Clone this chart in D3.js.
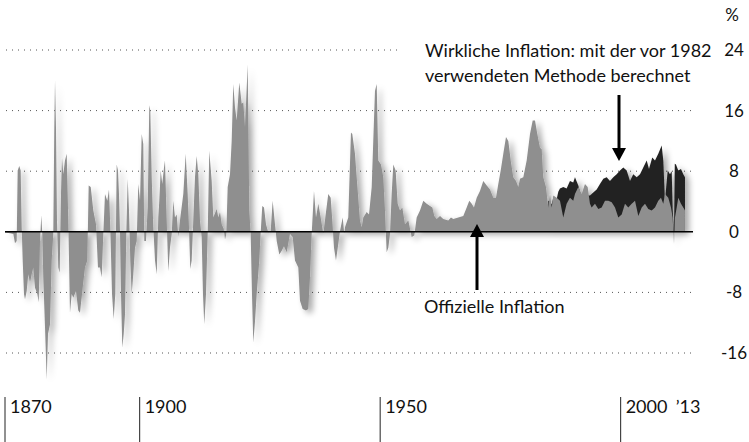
<!DOCTYPE html>
<html>
<head>
<meta charset="utf-8">
<script src="https://cdn.jsdelivr.net/npm/d3@7"></script>
<style>
  body { margin: 0; background: #fff; }
  svg { display: block; }
  text { font-family: Lato, "Open Sans", sans-serif; fill: #111; }
</style>
</head>
<body>
<div id="chart"></div>
<script>
var w = 749,
  h = 442;

// official inflation rate (% yoy), [year, value]
var official = [
  [1872.00,-0.1],[1873.04,-0.2],[1873.73,-0.3],[1874.08,-1.5],[1874.43,-1.2],[1874.64,8.1],[1874.97,8.7],[1875.26,8.1],
  [1875.47,0.6],[1875.68,-3.8],[1875.95,-8.2],[1876.16,-8.9],[1876.51,-7.8],[1876.84,-5.6],[1877.20,-6.7],[1877.55,-5.6],
  [1877.88,-4.7],[1878.24,-7.4],[1878.72,-8.2],[1879.01,-9.3],[1879.28,-1.2],[1879.55,2.2],[1879.75,-0.3],[1879.96,-6.0],
  [1880.32,-12.6],[1880.67,-19.5],[1880.94,-13.5],[1881.36,-12.2],[1881.71,-3.8],[1882.04,-0.3],[1882.25,13.8],[1882.40,20.0],
  [1882.60,13.8],[1882.81,1.5],[1883.08,-4.7],[1883.37,-5.4],[1883.64,5.0],[1883.85,9.8],[1884.12,7.6],[1884.47,9.4],
  [1884.83,10.3],[1885.16,1.5],[1885.51,-10.7],[1885.87,-8.2],[1886.20,-8.7],[1886.76,-7.8],[1887.24,-10.4],[1887.59,-10.7],
  [1888.15,-7.4],[1888.63,-4.7],[1889.11,-3.8],[1889.40,6.1],[1889.82,5.9],[1890.36,2.8],[1890.92,1.0],[1891.33,-4.7],
  [1891.75,-4.7],[1892.10,-6.0],[1892.44,-0.3],[1892.79,5.0],[1893.27,4.1],[1893.62,5.6],[1893.89,0.6],[1894.25,-8.2],
  [1894.60,-11.5],[1894.93,-8.2],[1895.22,8.9],[1895.49,8.1],[1895.70,5.0],[1895.91,0],[1896.12,-8.2],[1896.39,-15.3],
  [1896.68,-13.5],[1896.95,-10.9],[1897.22,-0.3],[1897.51,7.0],[1897.78,2.8],[1898.05,-3.8],[1898.34,-8.2],[1898.67,-5.6],
  [1899.03,-2.1],[1899.38,-1.2],[1899.71,6.3],[1900.07,4.1],[1900.42,12.9],[1900.75,11.6],[1900.96,-1.2],[1901.31,-1.2],
  [1901.67,3.2],[1902.00,16.7],[1902.21,16.0],[1902.50,7.2],[1902.83,0.6],[1903.19,-3.8],[1903.54,-5.6],[1903.87,1.9],
  [1904.08,4.1],[1904.37,8.1],[1904.70,6.3],[1905.06,8.5],[1905.26,9.4],[1905.62,1.5],[1905.95,-5.2],[1906.30,-2.1],
  [1906.66,-0.3],[1906.99,4.1],[1907.34,1.9],[1907.70,2.3],[1908.03,-0.7],[1908.38,1.5],[1909.07,5.0],[1909.57,10.3],
  [1909.98,5.0],[1910.25,0.6],[1910.52,-4.9],[1910.81,-3.8],[1911.09,0.6],[1911.50,7.2],[1911.85,10.0],[1912.19,7.6],
  [1912.54,1.5],[1912.89,-0.7],[1913.16,-8.2],[1913.43,-12.2],[1913.79,-8.2],[1914.14,-0.3],[1914.47,10.7],[1914.97,6.7],
  [1915.31,1.9],[1916.01,3.0],[1916.35,1.9],[1916.70,2.6],[1917.05,1.0],[1917.47,0.4],[1917.74,-1.0],[1918.01,-0.3],
  [1918.30,5.9],[1918.78,7.6],[1919.13,12.0],[1919.46,19.5],[1919.82,16.4],[1920.17,14.7],[1920.71,19.7],[1921.21,16.9],
  [1921.54,17.1],[1921.90,13.8],[1922.46,22.1],[1922.79,2.8],[1923.08,-0.3],[1923.35,-8.2],[1923.62,-14.6],[1923.98,-11.8],
  [1924.33,-8.2],[1924.87,-3.8],[1925.16,-0.1],[1925.49,3.4],[1925.85,3.2],[1926.26,1.0],[1926.74,-0.1],[1927.24,0.1],
  [1927.65,4.1],[1928.13,1.0],[1928.49,-1.2],[1929.03,-3.0],[1929.53,-2.5],[1930.00,-1.9],[1930.57,-2.7],[1931.25,-0.3],
  [1931.81,-0.7],[1932.29,-3.8],[1932.98,-4.7],[1933.33,-9.1],[1933.89,-10.2],[1934.58,-10.4],[1935.06,-10.2],[1935.41,-6.0],
  [1935.76,-0.3],[1936.24,5.4],[1936.66,1.9],[1937.14,3.7],[1937.63,1.9],[1938.18,-0.3],[1938.67,2.3],[1939.21,5.0],
  [1939.71,4.5],[1940.05,1.5],[1940.40,-2.1],[1940.81,-3.8],[1941.29,-1.6],[1941.65,0.1],[1942.21,1.9],[1942.54,-0.3],
  [1942.69,0.6],[1943.37,1.9],[1943.93,13.1],[1944.20,12.9],[1944.76,10.3],[1945.12,7.2],[1945.80,1.5],[1946.16,0.6],
  [1946.49,1.9],[1947.20,2.6],[1947.68,2.3],[1948.24,5.9],[1948.92,18.6],[1949.28,19.5],[1949.61,9.4],[1950.17,8.9],
  [1950.65,7.2],[1951.00,2.8],[1951.35,-2.7],[1951.69,-2.1],[1952.04,-0.3],[1952.39,5.0],[1952.73,8.9],[1953.22,8.1],
  [1953.64,3.7],[1954.12,2.8],[1954.60,3.2],[1955.16,1.0],[1955.85,1.5],[1956.55,-0.7],[1957.09,-0.5],[1957.59,1.9],
  [1958.28,2.8],[1958.97,4.1],[1959.67,3.7],[1960.36,3.4],[1960.84,3.2],[1961.25,2.1],[1961.75,1.7],[1962.44,2.1],
  [1963.12,1.7],[1964.16,1.5],[1964.72,1.9],[1965.20,1.7],[1966.24,1.9],[1967.28,2.1],[1967.99,3.2],[1968.53,4.1],
  [1969.03,3.7],[1969.50,3.2],[1970.07,4.5],[1970.75,5.4],[1971.44,6.7],[1972.15,6.1],[1972.83,5.6],[1973.52,4.5],
  [1974.08,4.5],[1974.56,6.3],[1975.06,8.1],[1975.60,10.3],[1976.16,12.5],[1976.64,12.0],[1977.14,9.4],[1977.67,7.2],
  [1978.24,6.7],[1978.72,5.9],[1979.07,7.0],[1979.76,7.2],[1980.46,9.4],[1981.15,12.9],[1981.71,14.7],[1982.19,14.7],
  [1982.67,12.9],[1983.23,11.1],[1983.58,10.9],[1983.91,7.2],[1984.47,5.9],[1984.95,3.2],[1985.31,5.0],[1985.66,3.2],
  [1985.99,4.8],[1986.70,4.5],[1987.38,4.1],[1988.07,1.9],[1988.77,3.7],[1989.46,4.5],[1990.14,4.1],[1990.50,5.0],
  [1991.19,5.9],[1991.89,5.0],[1992.58,6.3],[1993.14,5.9],[1993.62,3.7],[1993.97,3.2],[1994.66,3.7],[1995.35,3.0],
  [1996.05,3.2],[1996.74,4.1],[1997.43,4.1],[1998.13,3.9],[1998.82,3.2],[1999.51,1.9],[2000.21,2.3],[2000.90,3.7],
  [2001.58,3.2],[2002.29,3.7],[2002.98,4.1],[2003.67,2.1],[2004.37,3.2],[2005.06,3.7],[2005.74,3.0],[2006.45,2.8],
  [2007.14,3.2],[2007.82,4.1],[2008.38,4.5],[2008.86,3.7],[2009.21,5.0],[2009.90,4.5],[2010.46,3.2],[2010.81,1.9],
  [2011.09,-1.6],[2011.29,1.9],[2011.65,3.2],[2011.98,4.5],[2012.54,3.7],[2013.02,3.2],[2013.37,2.8]
];

// "real" inflation with the pre-1982 method, [year, value]
var real = [
  [1984.95,4.1],[1985.31,4.0],[1985.66,3.6],[1985.99,4.5],[1986.70,4.3],[1987.03,5.3],[1987.38,5.7],[1988.07,5.9],
  [1988.77,5.7],[1989.46,6.7],[1990.14,6.5],[1990.50,7.2],[1991.19,6.1],[1991.89,4.5],[1992.58,4.8],[1993.62,4.8],
  [1994.31,5.2],[1995.01,5.6],[1995.70,6.3],[1996.39,7.0],[1997.09,7.2],[1997.78,6.7],[1998.47,7.2],[1999.17,7.6],
  [1999.86,8.1],[2000.55,8.5],[2001.25,8.1],[2001.94,6.7],[2002.62,7.6],[2003.33,7.2],[2004.02,7.6],[2004.70,8.5],
  [2005.41,9.4],[2005.89,8.3],[2006.57,9.8],[2007.14,9.4],[2007.82,10.3],[2008.53,11.4],[2008.86,9.4],[2009.21,4.1],
  [2009.78,8.1],[2010.25,7.6],[2010.61,8.0],[2010.81,3.0],[2011.09,-0.5],[2011.25,9.0],[2011.50,8.9],[2011.98,8.1],
  [2012.54,8.3],[2013.02,7.6],[2013.37,7.2]
];

var gridValues = [24, 16, 8, -8, -16];
var axisValues = [24, 16, 8, 0, -8, -16];
var tickYears = [1872, 1900, 1950, 2000];
var tickLabels = ["1870", "1900", "1950", "2000"];

var x = d3.scaleLinear().domain([1872, 2013.5]).range([5, 685.6]);
var y = d3.scaleLinear().domain([-16, 24]).range([353, 50]);

var svg = d3.select("#chart").append("svg").attr("width", w).attr("height", h);

// soft drop shadow under the areas
var filter = svg.append("defs").append("filter").attr("id", "shadow")
  .attr("x", "-5%").attr("y", "-10%").attr("width", "115%").attr("height", "130%");
filter.append("feGaussianBlur").attr("in", "SourceAlpha").attr("stdDeviation", 3);
filter.append("feOffset").attr("dx", 4).attr("dy", 3);
filter.append("feComponentTransfer").append("feFuncA").attr("type", "linear").attr("slope", 0.35);
var merge = filter.append("feMerge");
merge.append("feMergeNode");
merge.append("feMergeNode").attr("in", "SourceGraphic");

// dotted grid
svg.selectAll(".grid").data(gridValues).enter().append("line")
  .attr("class", "grid")
  .attr("x1", 6)
  .attr("x2", function(d) { return d == 24 ? 398 : 693; })
  .attr("y1", function(d) { return y(d); })
  .attr("y2", function(d) { return y(d); })
  .attr("stroke", "#555")
  .attr("stroke-width", 1)
  .attr("stroke-dasharray", "1 5");

var area = d3.area()
  .x(function(d) { return x(d[0]); })
  .y0(y(0))
  .y1(function(d) { return y(d[1]); });

var g = svg.append("g").attr("filter", "url(#shadow)");
g.append("path").datum(real).attr("d", area).attr("fill", "#232323");
g.append("path").datum(official).attr("d", area).attr("fill", "#8f8f8f");

// zero line
svg.append("line")
  .attr("x1", 5).attr("x2", 693)
  .attr("y1", y(0)).attr("y2", y(0))
  .attr("stroke", "#000").attr("stroke-width", 1.6);

// right axis labels
svg.selectAll(".ylab").data(axisValues).enter().append("text")
  .attr("class", "ylab")
  .attr("x", 734)
  .attr("y", function(d) { return y(d) + 6; })
  .attr("text-anchor", "middle")
  .style("font-size", "17px")
  .text(function(d) { return d; });
svg.append("text").attr("x", 732).attr("y", 21).attr("text-anchor", "middle")
  .style("font-size", "17px").text("%");

// bottom year ticks
svg.selectAll(".xtick").data(tickYears).enter().append("line")
  .attr("x1", function(d) { return x(d); })
  .attr("x2", function(d) { return x(d); })
  .attr("y1", 397).attr("y2", h)
  .attr("stroke", "#222").attr("stroke-width", 1);
svg.selectAll(".xlab").data(tickYears).enter().append("text")
  .attr("x", function(d) { return x(d) + 5; })
  .attr("y", 413)
  .style("font-size", "18px")
  .text(function(d, i) { return tickLabels[i]; });
svg.append("text").attr("x", x(2014)).attr("y", 413).attr("text-anchor", "middle")
  .style("font-size", "18px").text("\u201913");

// annotations
function arrow(cx, from, tip) {
  var dir = tip > from ? 1 : -1;
  var base = tip - dir * 13;
  svg.append("line").attr("x1", cx).attr("x2", cx).attr("y1", from).attr("y2", base)
    .attr("stroke", "#000").attr("stroke-width", 3);
  svg.append("path")
    .attr("d", "M" + (cx - 7) + "," + base + "L" + (cx + 7) + "," + base + "L" + cx + "," + tip + "Z")
    .attr("fill", "#000");
}

// knock the dotted line out around the upper arrow
svg.append("line").attr("x1", 619).attr("x2", 619).attr("y1", 95).attr("y2", 140)
  .attr("stroke", "#fff").attr("stroke-width", 14);
arrow(619, 95, 161);
arrow(477, 290, 224);

svg.append("text").attr("x", 425).attr("y", 57).style("font-size", "18px")
  .text("Wirkliche Inflation: mit der vor 1982");
svg.append("text").attr("x", 425).attr("y", 82).style("font-size", "18px")
  .text("verwendeten Methode berechnet");
svg.append("text").attr("x", 424).attr("y", 313).style("font-size", "18px")
  .text("Offizielle Inflation");
</script>
</body>
</html>
